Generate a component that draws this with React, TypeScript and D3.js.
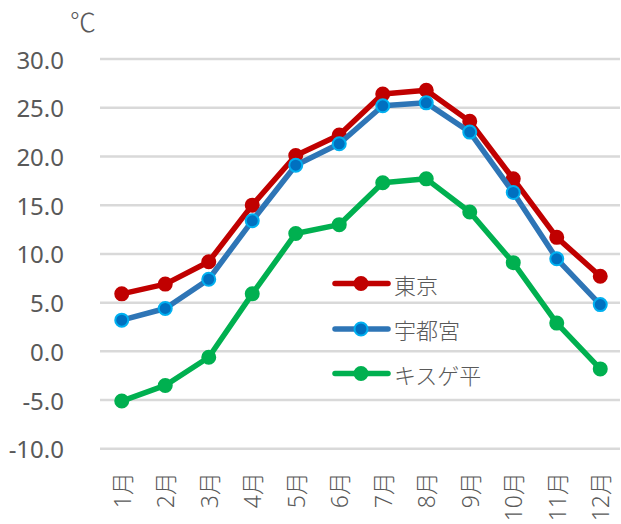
import React from "react";
import * as d3 from "d3";

const months = ["1月", "2月", "3月", "4月", "5月", "6月", "7月", "8月", "9月", "10月", "11月", "12月"];
const tokyo = [5.9, 6.9, 9.2, 15.0, 20.1, 22.2, 26.4, 26.8, 23.6, 17.7, 11.7, 7.7];
const utsunomiya = [3.2, 4.4, 7.4, 13.4, 19.1, 21.3, 25.2, 25.5, 22.5, 16.3, 9.5, 4.8];
const kisuge = [-5.1, -3.5, -0.6, 5.9, 12.1, 13.0, 17.3, 17.7, 14.3, 9.1, 2.9, -1.8];
const yTicks = [-10, -5, 0, 5, 10, 15, 20, 25, 30];

const series = [
  { name: "東京", values: tokyo, line: "#C00000", fill: "#C00000", stroke: "#C00000" },
  { name: "宇都宮", values: utsunomiya, line: "#2E75B6", fill: "#0070C0", stroke: "#00B0F0" },
  { name: "キスゲ平", values: kisuge, line: "#00B050", fill: "#00B050", stroke: "#00B050" },
];

const W = 621;
const H = 524;
const FONT = "'Noto Sans', 'Noto Sans CJK JP', sans-serif";
const JFONT = "'Noto Sans CJK JP', sans-serif";

export default function App() {
  const x = d3.scaleBand<string>().domain(months).range([100, 622]);
  const y = d3.scaleLinear().domain([-10, 30]).range([448.8, 59]);
  const cx = (m: string) => (x(m) as number) + x.bandwidth() / 2;
  const line = d3
    .line<number>()
    .x((_, i) => cx(months[i]))
    .y((d) => y(d));

  const legendY = [283.5, 329, 373.5];

  return (
    <svg
      width={W}
      height={H}
      style={{ position: "absolute", left: 0, top: 0, background: "#fff" }}
      fontFamily={FONT}
    >
      {yTicks.map((t) => (
        <g key={t}>
          <line x1={100} x2={620} y1={y(t)} y2={y(t)} stroke="#D9D9D9" strokeWidth={2.5} />
          <text
            x={64}
            y={y(t)}
            textAnchor="end"
            dominantBaseline="central"
            fontSize={24}
            fill="#595959"
          >
            {t.toFixed(1)}
          </text>
        </g>
      ))}
      <text x={70} y={32} fontSize={26} fill="#595959" fontFamily={JFONT} fontWeight={300}>
        ℃
      </text>
      {months.map((m) => (
        <text
          key={m}
          transform={`translate(${cx(m)},472) rotate(-90)`}
          textAnchor="end"
          dominantBaseline="central"
          fontSize={23}
          fill="#595959"
          fontWeight={300}
        >
          {m}
        </text>
      ))}
      {series.map((s) => (
        <g key={s.name}>
          <path d={line(s.values) as string} fill="none" stroke={s.line} strokeWidth={5.5} strokeLinejoin="round" />
          {s.values.map((v, i) => (
            <circle key={i} cx={cx(months[i])} cy={y(v)} r={6.5} fill={s.fill} stroke={s.stroke} strokeWidth={2} />
          ))}
        </g>
      ))}
      {series.map((s, i) => (
        <g key={s.name}>
          <line x1={335} x2={388} y1={legendY[i]} y2={legendY[i]} stroke={s.line} strokeWidth={5.5} strokeLinecap="round" />
          <circle cx={361} cy={legendY[i]} r={6.5} fill={s.fill} stroke={s.stroke} strokeWidth={2} />
          <text
            x={394}
            y={legendY[i]}
            dominantBaseline="central"
            fontSize={22}
            fill="#595959"
            fontFamily={JFONT}
            fontWeight={300}
          >
            {s.name}
          </text>
        </g>
      ))}
    </svg>
  );
}
